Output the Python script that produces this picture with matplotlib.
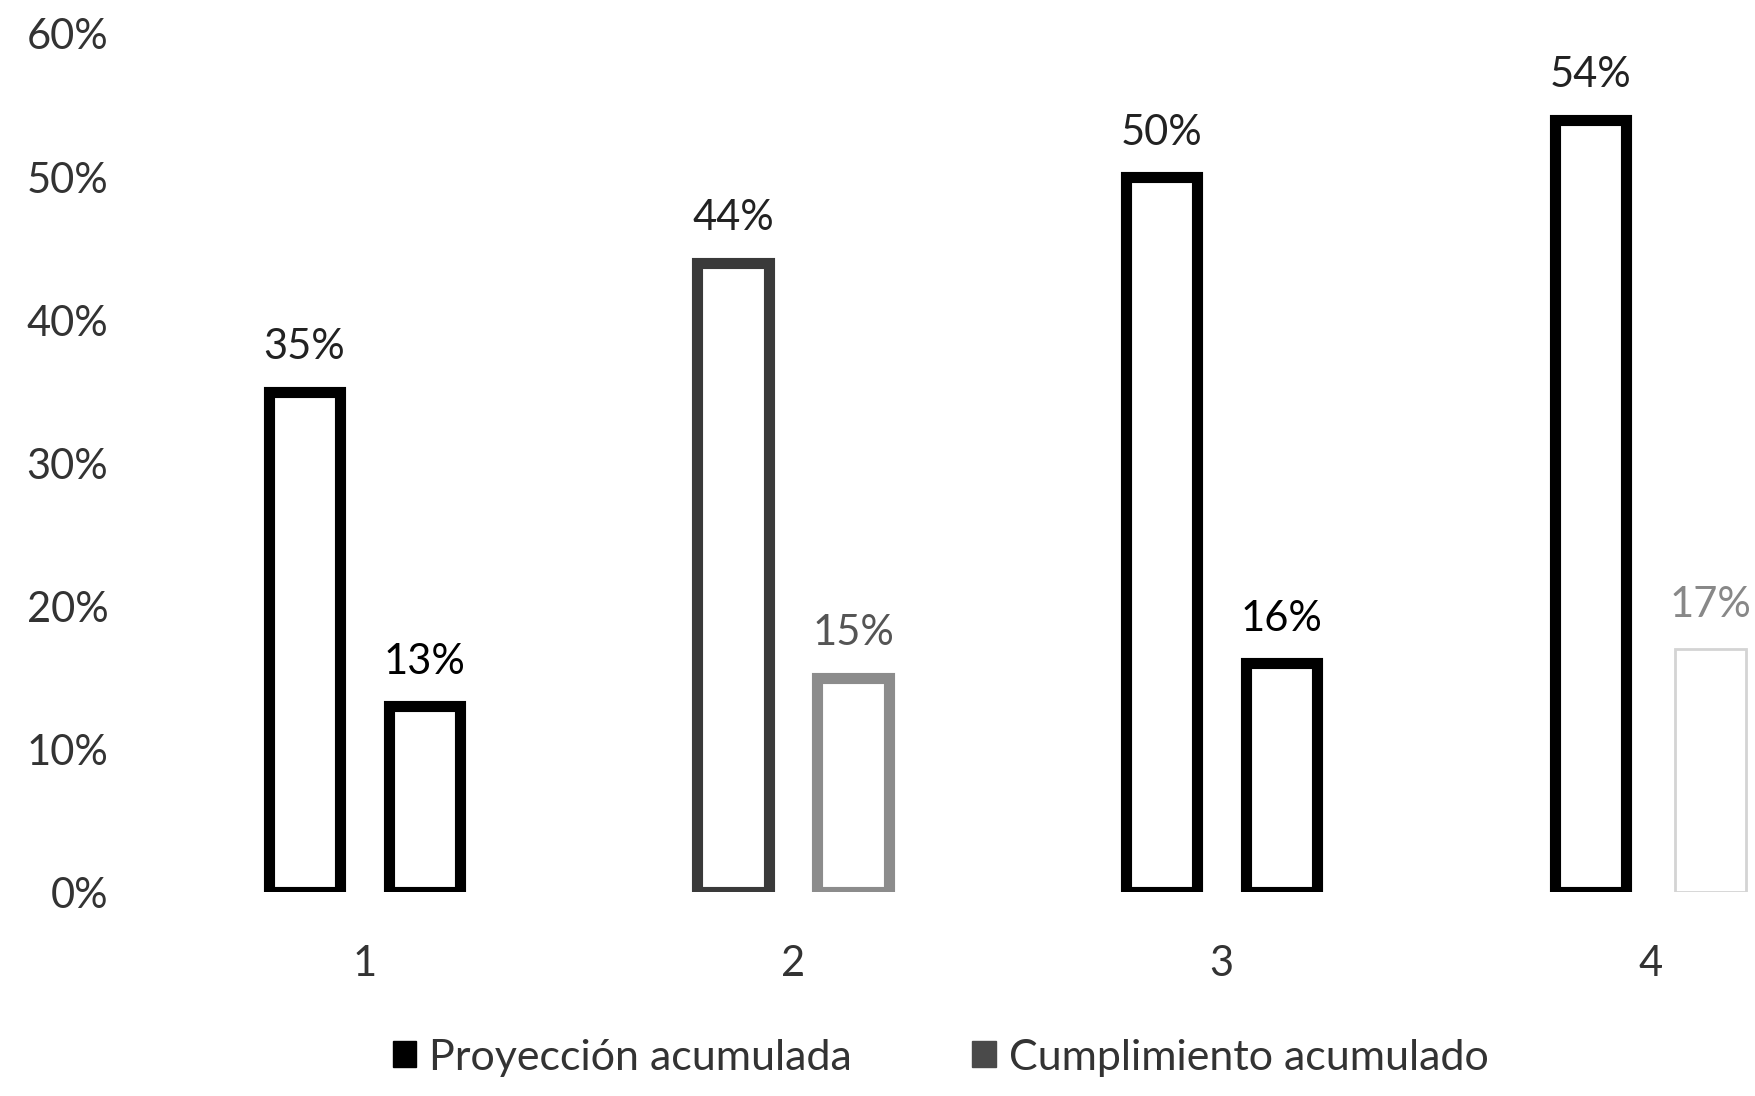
import numpy as np
import matplotlib
matplotlib.use("Agg")
from matplotlib import pyplot as plt
from matplotlib.patches import Patch

plt.rcParams['font.family'] = ['Lato', 'DejaVu Sans']

# Avance acumulado por periodo
periods = ["1", "2", "3", "4"]
proyeccion = [0.35, 0.44, 0.50, 0.54]
cumplimiento = [0.13, 0.15, 0.16, 0.17]
series_names = ["Proyección acumulada", "Cumplimiento acumulado"]
y_ticks = [0.0, 0.1, 0.2, 0.3, 0.4, 0.5, 0.6]

fig = plt.figure(figsize=(17.55, 10.96), dpi=100)
# the last group runs off the right side of the page
ax = fig.add_axes([0.0855, 0.186, 0.977, 0.783])

x = np.arange(1, len(periods) + 1)
width = 0.166
offset = 0.14

ax.bar(x - offset, proyeccion, width, facecolor="white",
       edgecolor=["black", "#3a3a3a", "black", "black"], linewidth=8)
ax.bar(x + offset, cumplimiento, width, facecolor="white",
       edgecolor=["black", "#8c8c8c", "black", "#d4d4d4"],
       linewidth=[8, 8, 8, 2])

label_colors_2 = ["black", "#555555", "black", "#888888"]
for xi, v in zip(x - offset, proyeccion):
    ax.annotate(f"{v*100:.0f}%", (xi, v), xytext=(0, 32), textcoords="offset points",
                ha="center", va="center", fontsize=30, color="#222222")
for xi, v, c in zip(x + offset, cumplimiento, label_colors_2):
    ax.annotate(f"{v*100:.0f}%", (xi, v), xytext=(0, 32), textcoords="offset points",
                ha="center", va="center", fontsize=30, color=c)

ax.set_xlim(0.5, 4.5)
ax.set_ylim(0, 0.6)
ax.set_xticks(x)
ax.set_xticklabels(periods)
ax.set_yticks(y_ticks)
ax.set_yticklabels([f"{t*100:.0f}%" for t in y_ticks])
ax.tick_params(axis="both", length=0, labelsize=30, colors="#333333")
ax.tick_params(axis="x", pad=38)
ax.tick_params(axis="y", pad=30)
for s in ax.spines.values():
    s.set_visible(False)

handles = [Patch(facecolor="black", edgecolor="black"),
           Patch(facecolor="#4a4a4a", edgecolor="#4a4a4a")]
fig.legend(handles, series_names, loc="center", bbox_to_anchor=(0.536, 0.035),
           ncol=2, frameon=False, fontsize=31, handlelength=0.55, handleheight=0.55,
           handletextpad=0.3, columnspacing=2.8, labelcolor="#333333")

fig.savefig("out.png", dpi=100)
